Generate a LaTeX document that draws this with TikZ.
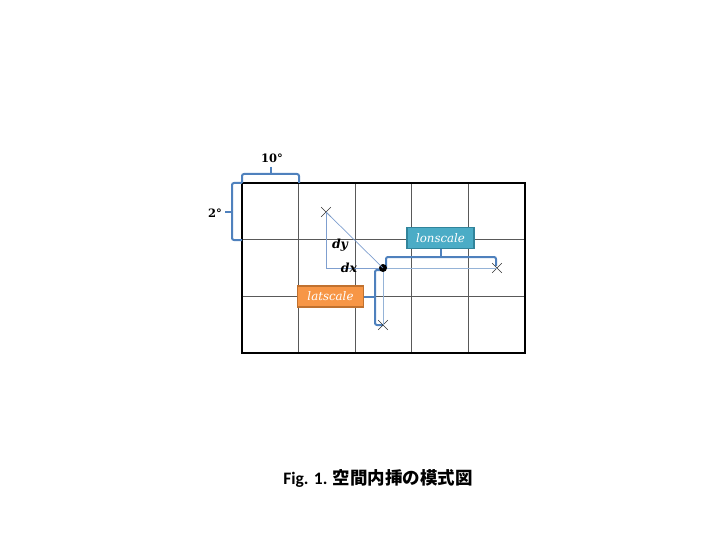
\documentclass[tikz,border=0pt]{standalone}
\usepackage{fontspec}
\setmainfont{Carlito}
\newfontfamily\cjk{Noto Sans CJK JP}
\newfontfamily\lblfont{DejaVu Serif}
\usetikzlibrary{shapes.misc}
\definecolor{brace}{HTML}{4F81BD}
\definecolor{thinl}{HTML}{7F9FCF}
\definecolor{lightl}{HTML}{95B3D7}
\definecolor{teal}{HTML}{4BACC6}
\definecolor{tealb}{HTML}{31849B}
\definecolor{orng}{HTML}{F79646}
\definecolor{orngb}{HTML}{C0712F}
\definecolor{gridg}{HTML}{595959}
\tikzset{
  bracestyle/.style={draw=brace, line width=2pt, rounded corners=2pt},
  crossmark/.style={cross out, draw=black!80, line width=0.6pt, minimum size=9pt, inner sep=0pt},
  dotmark/.style={circle, fill=black, minimum size=8pt, inner sep=0pt},
  boxlabel/.style={draw=#1, line width=1.2pt, text=white, minimum height=21pt, inner sep=0pt, font=\lblfont\itshape\fontsize{11.8}{12}\selectfont},
  mlabel/.style={font=\lblfont\bfseries\itshape\fontsize{12.5}{12.5}\selectfont, inner sep=0pt},
  dlabel/.style={font=\lblfont\bfseries\fontsize{11.5}{11.5}\selectfont, inner sep=0pt},
}
\begin{document}
\begin{tikzpicture}[x=1pt,y=-1pt]
\useasboundingbox (0,0) rectangle (720,540);
% grid
\foreach \x in {298.6,355.2,411.8,468.4} \draw[gridg, line width=0.9pt] (\x,183) -- (\x,353);
\foreach \y in {239.7,296.3} \draw[gridg, line width=0.9pt] (242,\y) -- (525,\y);
\draw[black, line width=1.8pt] (242,183) rectangle (525,353);
% labels boxes
\node[boxlabel=tealb, fill=teal, minimum width=67pt] (lon) at (440.5,238) {lonscale};
\node[boxlabel=orngb, fill=orng, minimum width=66pt] (lat) at (330.5,296.5) {latscale};
% lonscale brace
\coordinate (lonL) at (386,268);
\coordinate (lonR) at (496,266);
\draw[bracestyle] (lonL) -- (386,257) -- (496,257) -- (lonR);
\draw[bracestyle, rounded corners=0pt] (lon.south) -- (440.5,257);
% latscale brace
\coordinate (latT) at (383,270);
\coordinate (latB) at (383,325);
\draw[bracestyle] (latT) -- (375,270) -- (375,325) -- (latB);
\draw[bracestyle, rounded corners=0pt] (lat.east) -- (375,296.5);
% points
\node[crossmark] (p1) at (326,212) {};
\node[crossmark] (p2) at (497,268) {};
\node[crossmark] (p3) at (383,325) {};
\node[dotmark] (c) at (383,268) {};
\draw[thinl, line width=0.7pt] (p1.center) -- (c.center);
\draw[thinl, line width=0.7pt] (p1.center) |- (c.west);
\draw[lightl, line width=0.7pt] (c.east) -- (p2.center);
\draw[lightl, line width=0.7pt] (c.south) -- (p3.center);
\node[mlabel] (dy) at (340,245) {dy};
\node[mlabel] (dx) at (349,268) {dx};
% 10 deg brace
\coordinate (tL) at (242,183);
\coordinate (tR) at (299,183);
\draw[bracestyle] (tL) -- (242,174) -- (299,174) -- (tR);
\coordinate (tM) at (270.5,167);
\draw[bracestyle, rounded corners=0pt] (tM) -- (270.5,174);
\node[dlabel] (ten) at (272,158) {10°};
% 2 deg brace
\coordinate (lT) at (242,183);
\coordinate (lB) at (242,240);
\draw[bracestyle] (lT) -- (232,183) -- (232,240) -- (lB);
\coordinate (lM) at (225,212);
\draw[bracestyle, rounded corners=0pt] (lM) -- (232,212);
\node[dlabel] (two) at (215,213) {2°};
% caption
\node[font=\fontsize{17.5}{17.5}\selectfont\bfseries, inner sep=0pt] (cap) at (378,478) {Fig. 1. {\cjk\bfseries 空間内挿の模式図}};
\end{tikzpicture}
\end{document}
